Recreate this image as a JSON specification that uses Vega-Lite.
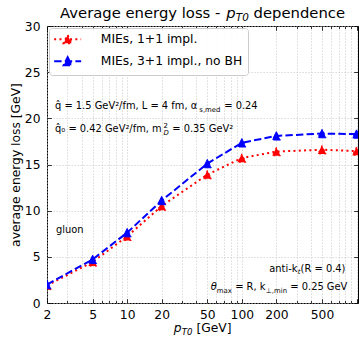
{
  "$schema": "https://vega.github.io/schema/vega-lite/v6.json",
  "width": 311,
  "height": 277,
  "autosize": {"type": "none"},
  "padding": {"left": 47, "top": 26, "right": 1, "bottom": 34},
  "background": "white",
  "config": {
    "view": {"stroke": "black", "strokeWidth": 1},
    "font": "DejaVu Sans",
    "text": {"font": "DejaVu Sans"},
    "axis": {"labelFont": "DejaVu Sans", "titleFont": "DejaVu Sans"},
    "legend": {
      "orient": "top-left",
      "offset": 2,
      "fillColor": "rgba(255,255,255,0.9)",
      "strokeColor": "#cccccc",
      "cornerRadius": 3,
      "padding": 5,
      "rowPadding": 5,
      "symbolType": "M-2.7,0L2.7,0M0,-0.8L0.8,0.8L-0.8,0.8Z",
      "symbolSize": 100,
      "symbolStrokeWidth": 2,
      "symbolOffset": 7.5,
      "labelOffset": 27,
      "labelFont": "DejaVu Sans",
      "labelFontSize": 12.3,
      "labelColor": "black",
      "labelLimit": 400
    }
  },
  "datasets": {
    "curves": [
      {"p": 2, "E": 1.9, "s": "MIEs, 1+1 impl."},
      {"p": 5, "E": 4.45, "s": "MIEs, 1+1 impl."},
      {"p": 10, "E": 7.22, "s": "MIEs, 1+1 impl."},
      {"p": 20, "E": 10.5, "s": "MIEs, 1+1 impl."},
      {"p": 50, "E": 13.9, "s": "MIEs, 1+1 impl."},
      {"p": 100, "E": 15.7, "s": "MIEs, 1+1 impl."},
      {"p": 200, "E": 16.4, "s": "MIEs, 1+1 impl."},
      {"p": 500, "E": 16.6, "s": "MIEs, 1+1 impl."},
      {"p": 1000, "E": 16.45, "s": "MIEs, 1+1 impl."},
      {"p": 2, "E": 2.0, "s": "MIEs, 3+1 impl., no BH"},
      {"p": 5, "E": 4.72, "s": "MIEs, 3+1 impl., no BH"},
      {"p": 10, "E": 7.62, "s": "MIEs, 3+1 impl., no BH"},
      {"p": 20, "E": 11.1, "s": "MIEs, 3+1 impl., no BH"},
      {"p": 50, "E": 15.1, "s": "MIEs, 3+1 impl., no BH"},
      {"p": 100, "E": 17.35, "s": "MIEs, 3+1 impl., no BH"},
      {"p": 200, "E": 18.1, "s": "MIEs, 3+1 impl., no BH"},
      {"p": 500, "E": 18.35, "s": "MIEs, 3+1 impl., no BH"},
      {"p": 1000, "E": 18.3, "s": "MIEs, 3+1 impl., no BH"}
    ],
    "notes": [
      {"x": 2.597, "y": 30.866, "t": "Average energy loss -", "r": "title", "it": false},
      {"x": 73.05, "y": 30.866, "t": "p", "r": "title", "it": true},
      {"x": 88.58, "y": 30.542, "t": "T0", "r": "tsub", "it": true},
      {"x": 126.64, "y": 30.866, "t": "dependence", "r": "title", "it": false},
      {"x": 25.49, "y": -3.141, "t": "p", "r": "lab", "it": true},
      {"x": 29.96, "y": -3.412, "t": "T0", "r": "lsub", "it": true},
      {"x": 40.16, "y": -3.141, "t": "[GeV]", "r": "lab", "it": false},
      {"x": 2.349, "y": 21.011, "t": "q\u0302 = 1.5 GeV\u00b2/fm, L = 4 fm, \u03b1", "r": "note", "it": false},
      {"x": 42.57, "y": 20.74, "t": "s,med", "r": "nsub", "it": false},
      {"x": 70.19, "y": 21.011, "t": "= 0.24", "r": "note", "it": false},
      {"x": 2.349, "y": 18.52, "t": "q\u0302\u2080 = 0.42 GeV\u00b2/fm, m", "r": "note", "it": false},
      {"x": 20.74, "y": 18.953, "t": "2", "r": "nsub", "it": false},
      {"x": 20.74, "y": 18.249, "t": "D", "r": "nsub", "it": true},
      {"x": 24.71, "y": 18.52, "t": "= 0.35 GeV\u00b2", "r": "note", "it": false},
      {"x": 2.396, "y": 7.581, "t": "gluon", "r": "note", "it": false},
      {"x": 173.2, "y": 3.357, "t": "anti-k", "r": "note", "it": false},
      {"x": 307.6, "y": 3.087, "t": "t", "r": "nsub", "it": true},
      {"x": 325.4, "y": 3.357, "t": "(R = 0.4)", "r": "note", "it": false},
      {"x": 53.51, "y": 1.408, "t": "\u03b8", "r": "note", "it": true},
      {"x": 60.37, "y": 1.137, "t": "max", "r": "nsub", "it": false},
      {"x": 87.52, "y": 1.408, "t": "= R, k", "r": "note", "it": false},
      {"x": 161.8, "y": 1.137, "t": "\u22a5,min", "r": "nsub", "it": false},
      {"x": 264.6, "y": 1.408, "t": "= 0.25 GeV", "r": "note", "it": false}
    ]
  },
  "resolve": {"axis": {"x": "independent", "y": "independent"}},
  "layer": [
    {
      "data": {"name": "curves"},
      "mark": {"type": "line", "strokeWidth": 2, "clip": true},
      "encoding": {
        "x": {
          "field": "p", "type": "quantitative",
          "scale": {"type": "log", "domain": [2, 1030], "nice": false},
          "axis": {
            "orient": "bottom",
            "values": [2, 3, 4, 5, 6, 7, 8, 9, 10, 20, 30, 40, 50, 60, 70, 80, 90, 100, 200, 300, 400, 500, 600, 700, 800, 900, 1000],
            "format": "d",
            "labelExpr": "indexof([2,5,10,20,50,100,200,500], datum.value) >= 0 ? datum.label : ''",
            "labelFontSize": 12.3, "labelColor": "black", "labelPadding": 9.3,
            "labelOverlap": false, "labelFlush": false, "labelBound": false,
            "tickSize": {"condition": {"test": "indexof([2,5,10,20,50,100,200,500,1000], datum.value) >= 0", "value": -4.3}, "value": -2.5},
            "tickColor": "black", "tickWidth": 0.8,
            "grid": true, "gridColor": "#c4c4c4", "gridDash": [1.2, 1.8], "gridWidth": 0.8,
            "domain": false, "title": null
          }
        },
        "y": {
          "field": "E", "type": "quantitative",
          "scale": {"domain": [0, 30], "nice": false},
          "axis": {
            "orient": "left",
            "values": [0, 5, 10, 15, 20, 25, 30],
            "labelFontSize": 12.3, "labelColor": "black", "labelPadding": 11.3,
            "tickSize": -4.3, "tickColor": "black", "tickWidth": 0.8,
            "grid": true, "gridColor": "#c4c4c4", "gridDash": [1.2, 1.8], "gridWidth": 0.8,
            "domain": false,
            "title": "average energy loss [GeV]",
            "titleFontSize": 12.3, "titleFontWeight": "normal", "titleColor": "black",
            "titleX": -32, "titleY": 138.5, "titleAngle": 270, "titleBaseline": "middle", "titleAlign": "center"
          }
        },
        "stroke": {
          "field": "s", "type": "nominal",
          "scale": {"domain": ["MIEs, 1+1 impl.", "MIEs, 3+1 impl., no BH"], "range": ["#ff0000", "#0000ff"]},
          "legend": {"title": null}
        },
        "strokeDash": {
          "field": "s", "type": "nominal",
          "scale": {"domain": ["MIEs, 1+1 impl.", "MIEs, 3+1 impl., no BH"], "range": [[2, 3.3], [7.4, 3.2]]},
          "legend": {"title": null}
        }
      }
    },
    {
      "data": {"name": "curves"},
      "mark": {"type": "point", "shape": "M0,-1L-1,1L1,1Z", "filled": true, "size": 70, "opacity": 1, "strokeWidth": 1, "clip": true},
      "encoding": {
        "x": {
          "field": "p", "type": "quantitative",
          "axis": {
            "orient": "top",
            "values": [2, 3, 4, 5, 6, 7, 8, 9, 10, 20, 30, 40, 50, 60, 70, 80, 90, 100, 200, 300, 400, 500, 600, 700, 800, 900, 1000],
            "labels": false,
            "tickSize": {"condition": {"test": "indexof([2,5,10,20,50,100,200,500,1000], datum.value) >= 0", "value": -4.3}, "value": -2.5},
            "tickColor": "black", "tickWidth": 0.8,
            "grid": false, "domain": false, "title": null
          }
        },
        "y": {
          "field": "E", "type": "quantitative",
          "axis": {
            "orient": "right",
            "values": [0, 5, 10, 15, 20, 25, 30],
            "labels": false,
            "tickSize": -4.3, "tickColor": "black", "tickWidth": 0.8,
            "grid": false, "domain": false, "title": null
          }
        },
        "fill": {
          "field": "s", "type": "nominal",
          "scale": {"domain": ["MIEs, 1+1 impl.", "MIEs, 3+1 impl., no BH"], "range": ["#ff0000", "#0000ff"]},
          "legend": {"title": null}
        },
        "stroke": {
          "field": "s", "type": "nominal",
          "legend": {"title": null}
        },
        "strokeDash": {
          "field": "s", "type": "nominal",
          "legend": {"title": null}
        }
      }
    },
    {
      "data": {"name": "notes"},
      "transform": [{"filter": "!datum.it"}],
      "mark": {"type": "text", "align": "left", "baseline": "alphabetic", "color": "black", "font": "DejaVu Sans"},
      "encoding": {
        "x": {"field": "x", "type": "quantitative", "axis": null},
        "y": {"field": "y", "type": "quantitative", "axis": null},
        "text": {"field": "t"},
        "size": {
          "field": "r", "type": "nominal",
          "scale": {"type": "ordinal", "domain": ["title", "tsub", "lab", "lsub", "note", "nsub"], "range": [14.8, 10.4, 12.3, 8.6, 9.9, 6.9]},
          "legend": null
        }
      }
    },
    {
      "data": {"name": "notes"},
      "transform": [{"filter": "datum.it"}],
      "mark": {"type": "text", "align": "left", "baseline": "alphabetic", "color": "black", "font": "DejaVu Sans", "fontStyle": "italic"},
      "encoding": {
        "x": {"field": "x", "type": "quantitative", "axis": null},
        "y": {"field": "y", "type": "quantitative", "axis": null},
        "text": {"field": "t"},
        "size": {
          "field": "r", "type": "nominal",
          "scale": {"type": "ordinal", "domain": ["title", "tsub", "lab", "lsub", "note", "nsub"], "range": [14.8, 10.4, 12.3, 8.6, 9.9, 6.9]},
          "legend": null
        }
      }
    }
  ]
}
